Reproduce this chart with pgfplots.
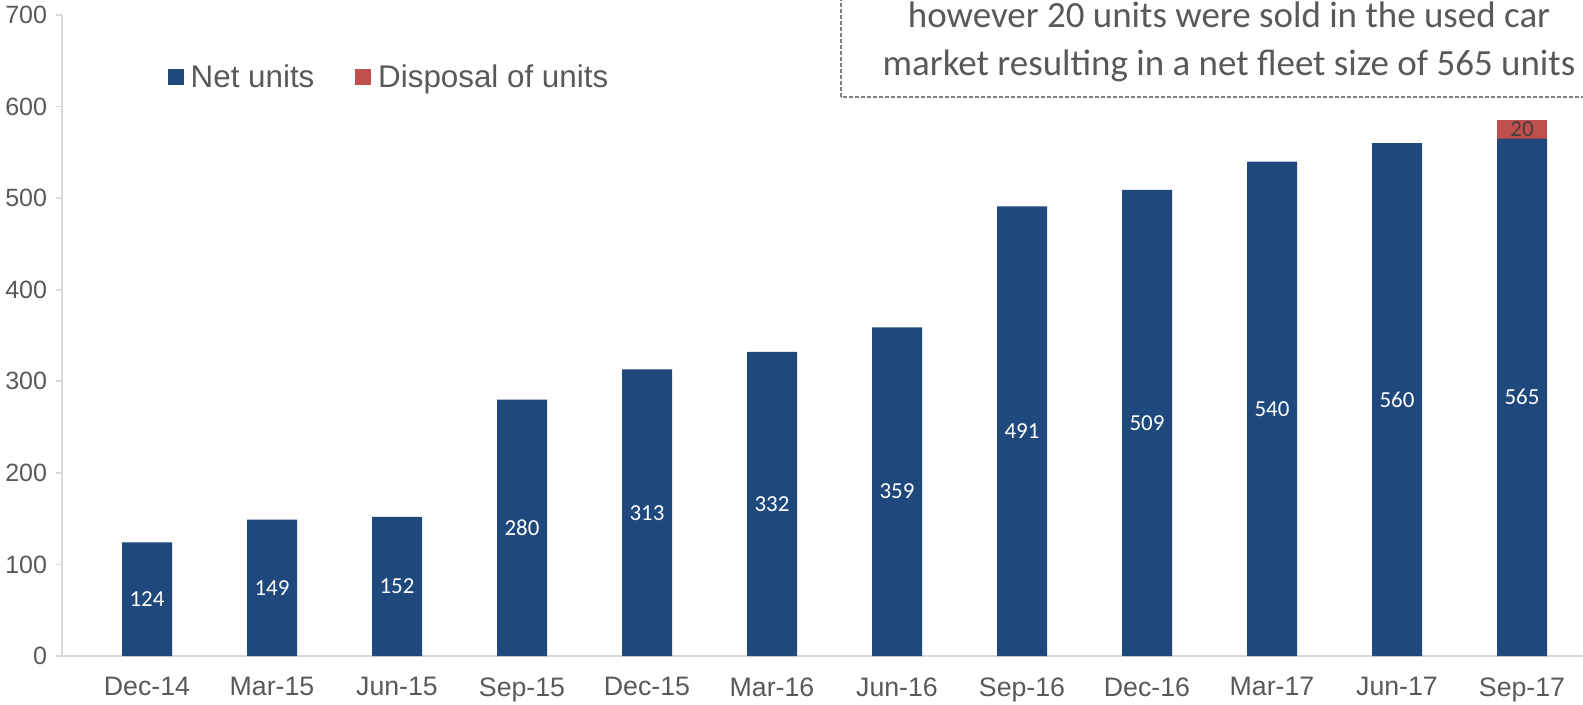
\documentclass[border=0pt]{standalone}
\usepackage{fontspec}
\setmainfont{Liberation Sans}
\newfontfamily\carlito{Carlito}
\usepackage{pgfplots}
\pgfplotsset{compat=1.18}
\usepackage{pgfplotstable}
\definecolor{netblue}{HTML}{1F497D}
\definecolor{disred}{HTML}{C0504D}
\definecolor{txtgray}{HTML}{595959}
\definecolor{axgray}{HTML}{D9D9D9}
\definecolor{boxgray}{HTML}{808080}
\definecolor{lblgray}{HTML}{404040}
\pgfplotstableread{
x net disp
0 124 0
1 149 0
2 152 0
3 280 0
4 313 0
5 332 0
6 359 0
7 491 0
8 509 0
9 540 0
10 560 0
11 565 20
}\data
\pgfplotsset{
  base/.style={
    at={(15.5mm,12mm)}, anchor=south west, scale only axis,
    width=380.25mm, height=160.25mm,
    xmin=-0.68, xmax=11.488, ymin=0, ymax=700,
    enlargelimits=false,
    /pgf/number format/assume math mode=true,
  }
}
\begin{document}
\begin{tikzpicture}
\path[use as bounding box] (0,0) rectangle (395.75mm,176mm);
\clip (0,0) rectangle (395.75mm,176mm);
\begin{axis}[base,
  ybar stacked, bar width=0.4,
  axis lines=left, axis line style={-, axgray, line width=0.5mm},
  xtick={0,...,11},
  xticklabels={Dec-14,Mar-15,Jun-15,Sep-15,Dec-15,Mar-16,Jun-16,Sep-16,Dec-16,Mar-17,Jun-17,Sep-17},
  major x tick style={draw=none},
  ytick={0,100,...,700},
  tick align=outside,
  major tick length=1.5mm,
  y tick style={axgray, line width=0.4mm},
  x tick label style={font=\fontsize{19pt}{21pt}\selectfont, text=txtgray, yshift=-2.6mm},
  y tick label style={font=\fontsize{17.8pt}{20pt}\selectfont, text=txtgray, xshift=-1mm},
  legend style={at={(axis description cs:0.0692,0.903)}, anchor=west,
    draw=none, fill=none, inner sep=0pt, legend columns=2,
    font=\fontsize{22.3pt}{24pt}\selectfont, text=txtgray,
    /tikz/every even column/.append style={column sep=8.95mm},
    nodes={inner sep=1.2mm}},
  legend image code/.code={\fill[#1] (0mm,-2mm) rectangle (4mm,2mm); \path (0mm,0mm) -- (4.6mm,0mm);},
]
\addplot[fill=netblue, draw=none] table[x=x, y=net] {\data};
\addlegendentry{Net units}
\addplot[fill=disred, draw=none] table[x=x, y=disp] {\data};
\addlegendentry{Disposal of units}
\end{axis}
\begin{axis}[base, hide axis]
\addplot[draw=none, mark=none, nodes near coords, point meta=explicit,
  nodes near coords style={anchor=center, font=\carlito\fontsize{16.3pt}{18pt}\selectfont, text=white}]
  table[x=x, y expr=\thisrow{net}/2, meta=net] {\data};
\addplot[draw=none, mark=none, nodes near coords, point meta=explicit,
  nodes near coords style={anchor=center, font=\carlito\fontsize{16.3pt}{18pt}\selectfont, text=lblgray}]
  coordinates {(11,575) [20]};
\end{axis}
\draw[boxgray, line width=0.375mm, dash pattern=on 1mm off 0.5mm] (210.25mm,151.75mm) rectangle (420mm,200mm);
\node[align=center, text=txtgray, font=\carlito\fontsize{26.3pt}{34pt}\selectfont] at (307.25mm,165.6mm)
  {however 20 units were sold in the used car\\market resulting in a net fleet size of 565 units};
\end{tikzpicture}
\end{document}
